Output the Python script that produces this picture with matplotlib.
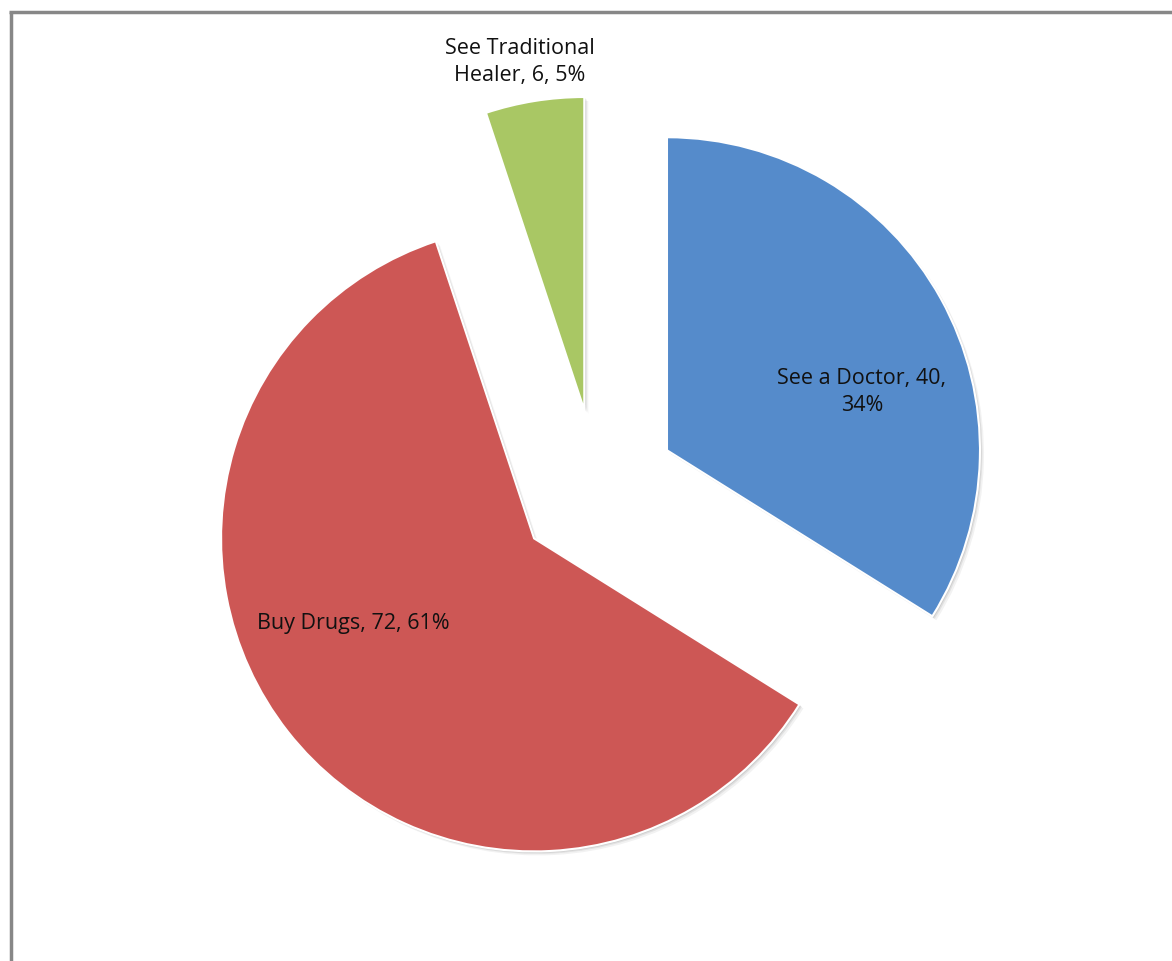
import matplotlib
matplotlib.use('Agg')
import matplotlib.pyplot as plt
from matplotlib.lines import Line2D

# chart data
categories = ["See a Doctor", "Buy Drugs", "See Traditional Healer"]
counts = [40, 72, 6]
label_texts = ["See a Doctor, 40,\n34%", "Buy Drugs, 72, 61%", "See Traditional\nHealer, 6, 5%"]
colors = ["#558BCB", "#CD5755", "#A9C764"]

W, H = 1172, 962
fig = plt.figure(figsize=(W / 100, H / 100), dpi=100)
ax = fig.add_axes([0, 0, 1, 1])

center = (597, H - 490)
radius = 313
explode = [80] * len(counts)

# soft shadow under each slice
for dx, dy, a in [(4, -4, 0.10), (2.5, -2.5, 0.15), (1.5, -1.5, 0.2)]:
    ax.pie(counts, colors=["#808080"] * 3, startangle=90, counterclock=False,
           center=(center[0] + dx, center[1] + dy), radius=radius, explode=explode,
           wedgeprops=dict(linewidth=0, alpha=a))

wedges, _ = ax.pie(counts, colors=colors, startangle=90, counterclock=False,
                   center=center, radius=radius, explode=explode,
                   wedgeprops=dict(edgecolor="white", linewidth=1.5))

ax.set_xlim(0, W)
ax.set_ylim(0, H)
ax.set_aspect('equal')
ax.axis('off')

font = dict(family=["Open Sans", "DejaVu Sans"], fontsize=15.5, color="#111111",
            ha="center", va="center", linespacing=1.4)
label_pos = [(862, H - 392), (353, H - 623), (520, H - 62)]
for txt, (lx, ly) in zip(label_texts, label_pos):
    ax.text(lx, ly, txt, **font)

# chart area frame (only top and left edges visible)
fig.add_artist(Line2D([10.5 / W, 10.5 / W], [0, 1 - 12.5 / H], color="#878787", lw=2.5,
                      transform=fig.transFigure, solid_capstyle='butt'))
fig.add_artist(Line2D([9.3 / W, 1], [1 - 12.5 / H, 1 - 12.5 / H], color="#878787", lw=2.5,
                      transform=fig.transFigure, solid_capstyle='butt'))

fig.savefig("out.png", dpi=100, facecolor="white")
